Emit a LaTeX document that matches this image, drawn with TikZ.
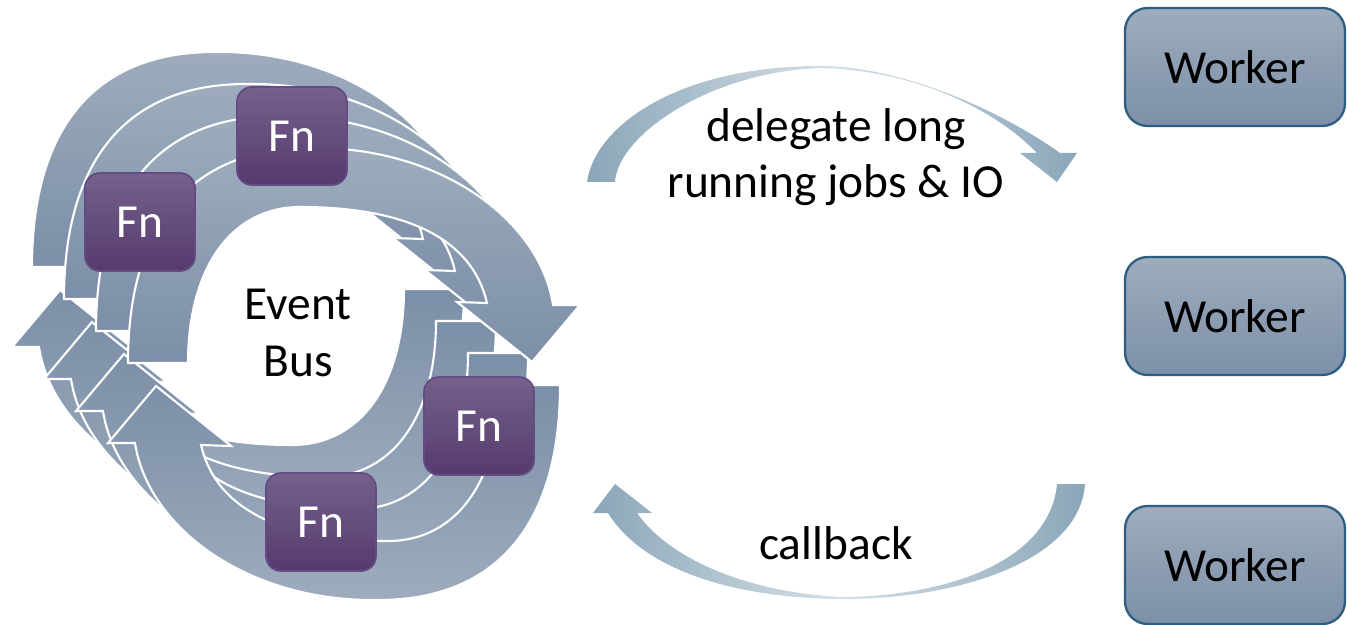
\documentclass[tikz,border=0pt]{standalone}
\usepackage{fontspec}
\setmainfont{Carlito}
\usepackage{xcolor}
\usetikzlibrary{positioning}

\definecolor{ringlight}{HTML}{9EACBD}
\definecolor{ringdark}{HTML}{7B8FA8}
\definecolor{fntop}{HTML}{75618B}
\definecolor{fnbot}{HTML}{553A6E}
\definecolor{fnedge}{HTML}{644B83}
\definecolor{worktop}{HTML}{9EACBD}
\definecolor{workbot}{HTML}{7C90A8}
\definecolor{workedge}{HTML}{2D5E82}
\definecolor{bendblue}{HTML}{8AA6B9}

\begin{document}
\begin{tikzpicture}[
    x=0.02cm, y=-0.02cm,
    ring/.style={top color=ringlight, bottom color=ringdark, draw=white, line width=1.2pt},
    ringback/.style={top color=ringdark, bottom color=ringlight, draw=white, line width=1.2pt},
    fnbox/.style={rectangle, rounded corners=0.3cm, minimum width=2.2cm, minimum height=1.96cm,
      top color=fntop, bottom color=fnbot, draw=fnedge, line width=1pt, text=white,
      font=\fontsize{27}{32}\selectfont},
    workerbox/.style={rectangle, rounded corners=0.45cm, minimum width=4.4cm, minimum height=2.36cm,
      top color=worktop, bottom color=workbot, draw=workedge, line width=1.3pt,
      font=\fontsize{27}{32}\selectfont},
    txt/.style={align=center, font=\fontsize{27}{32}\selectfont},
    bendarrow/.style={left color=bendblue, right color=bendblue, middle color=bendblue!35}
  ]
    \useasboundingbox (0,0) rectangle (1347,625);
    % event loop, four stacked copies (back to front)
    \begin{scope}[shift={(-96,-96)}]
      \shade[ringback, rotate around={180:(344,374)}]
      (128,363) .. controls (128,225) and (190,148) .. (310,148)
      .. controls (440,146) and (540,220) .. (553,305) -- (580,305) -- (532,362) -- (457,302) -- (487,303)
      .. controls (470,230) and (390,207) .. (300,207)
      .. controls (230,207) and (188,270) .. (188,363) -- cycle;
      \shade[ring]
      (128,363) .. controls (128,225) and (190,148) .. (310,148)
      .. controls (440,146) and (540,220) .. (553,305) -- (580,305) -- (532,362) -- (457,302) -- (487,303)
      .. controls (470,230) and (390,207) .. (300,207)
      .. controls (230,207) and (188,270) .. (188,363) -- cycle;
    \end{scope}
    \begin{scope}[shift={(-64,-64)}]
      \shade[ringback, rotate around={180:(344,374)}]
      (128,363) .. controls (128,225) and (190,148) .. (310,148)
      .. controls (440,146) and (540,220) .. (553,305) -- (580,305) -- (532,362) -- (457,302) -- (487,303)
      .. controls (470,230) and (390,207) .. (300,207)
      .. controls (230,207) and (188,270) .. (188,363) -- cycle;
      \shade[ring]
      (128,363) .. controls (128,225) and (190,148) .. (310,148)
      .. controls (440,146) and (540,220) .. (553,305) -- (580,305) -- (532,362) -- (457,302) -- (487,303)
      .. controls (470,230) and (390,207) .. (300,207)
      .. controls (230,207) and (188,270) .. (188,363) -- cycle;
    \end{scope}
    \begin{scope}[shift={(-32,-32)}]
      \shade[ringback, rotate around={180:(344,374)}]
      (128,363) .. controls (128,225) and (190,148) .. (310,148)
      .. controls (440,146) and (540,220) .. (553,305) -- (580,305) -- (532,362) -- (457,302) -- (487,303)
      .. controls (470,230) and (390,207) .. (300,207)
      .. controls (230,207) and (188,270) .. (188,363) -- cycle;
      \shade[ring]
      (128,363) .. controls (128,225) and (190,148) .. (310,148)
      .. controls (440,146) and (540,220) .. (553,305) -- (580,305) -- (532,362) -- (457,302) -- (487,303)
      .. controls (470,230) and (390,207) .. (300,207)
      .. controls (230,207) and (188,270) .. (188,363) -- cycle;
    \end{scope}
    \begin{scope}
      \shade[ringback, rotate around={180:(344,374)}]
      (128,363) .. controls (128,225) and (190,148) .. (310,148)
      .. controls (440,146) and (540,220) .. (553,305) -- (580,305) -- (532,362) -- (457,302) -- (487,303)
      .. controls (470,230) and (390,207) .. (300,207)
      .. controls (230,207) and (188,270) .. (188,363) -- cycle;
      \shade[ring]
      (128,363) .. controls (128,225) and (190,148) .. (310,148)
      .. controls (440,146) and (540,220) .. (553,305) -- (580,305) -- (532,362) -- (457,302) -- (487,303)
      .. controls (470,230) and (390,207) .. (300,207)
      .. controls (230,207) and (188,270) .. (188,363) -- cycle;
    \end{scope}
    \node[txt] (bus) at (298,333) {Event\\Bus};
    \node[fnbox] (fn1) at (292,136) {Fn};
    \node[fnbox] (fn2) at (140,222) {Fn};
    \node[fnbox] (fn3) at (479,426) {Fn};
    \node[fnbox] (fn4) at (321,522) {Fn};
    % workers
    \node[workerbox] (w1) at (1235,67) {Worker};
    \node[workerbox] (w2) at (1235,316) {Worker};
    \node[workerbox] (w3) at (1235,565) {Worker};
    % delegate / callback
    \shade[bendarrow]
    (587,182) .. controls (595,125) and (680,66) .. (820,66)
    .. controls (900,66) and (1000,110) .. (1060,153) -- (1077,153) -- (1057,182) -- (1020,153) -- (1037,153)
    .. controls (990,105) and (910,70) .. (820,68)
    .. controls (710,72) and (618,135) .. (615,182) -- cycle;
    \node[txt] (delegate) at (836,157) {delegate long\\running jobs \& IO};
    \shade[bendarrow]
    (1057,484) -- (1085,484) .. controls (1080,560) and (960,599) .. (843,599)
    .. controls (760,599) and (650,580) .. (608,513) -- (593,513) -- (615,484) -- (652,513) -- (637,513)
    .. controls (670,560) and (750,593) .. (843,597)
    .. controls (950,596) and (1050,560) .. (1057,484) -- cycle;
    \node[txt] (callback) at (836,543) {callback};
\end{tikzpicture}
\end{document}
